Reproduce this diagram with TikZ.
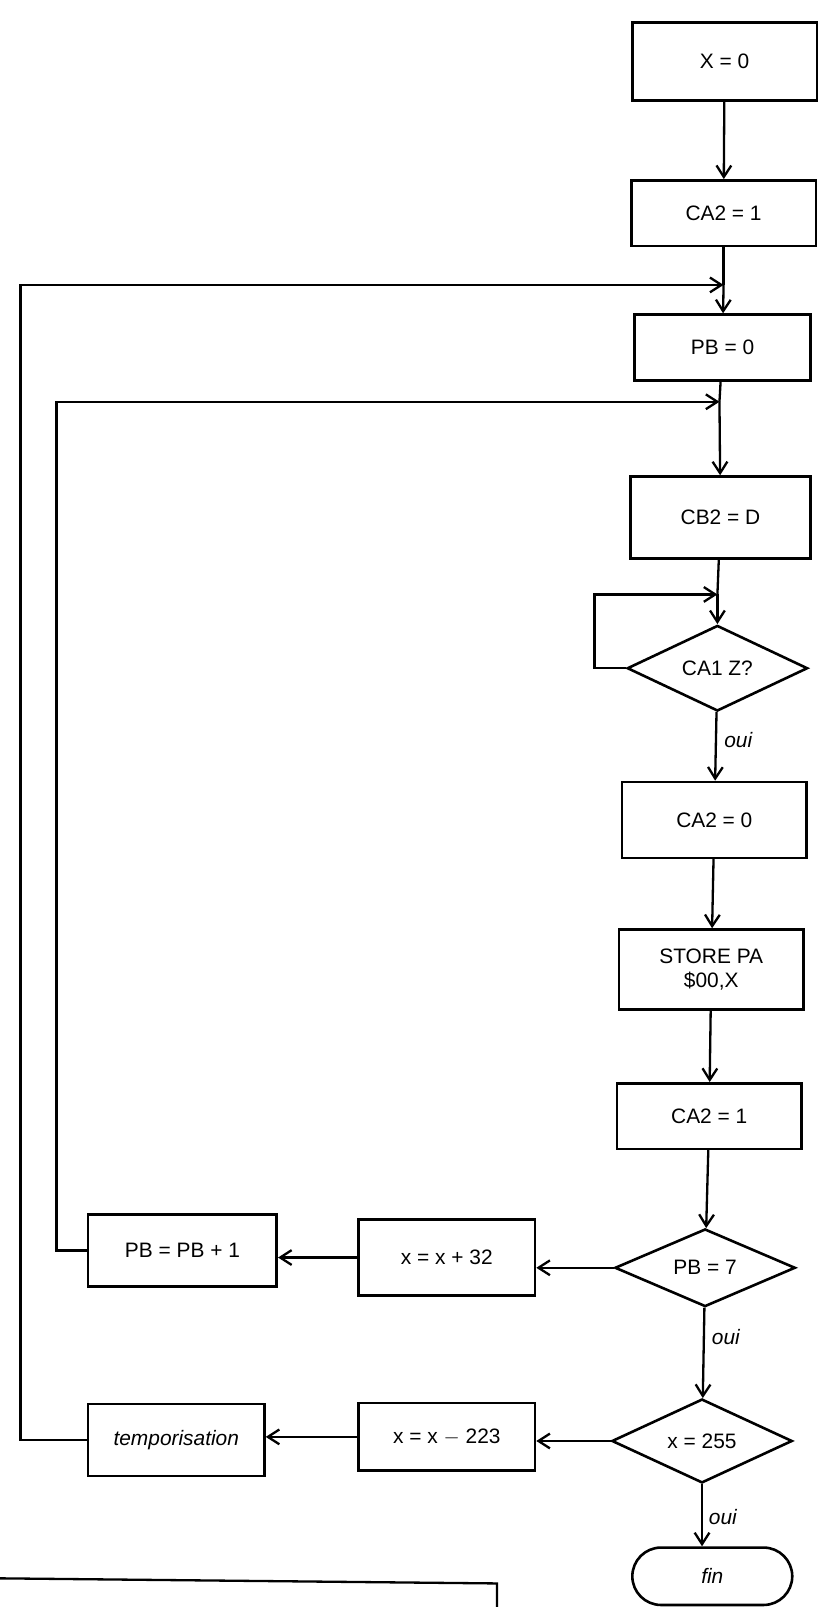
\documentclass[tikz,border=0pt]{standalone}
\usepackage{fontspec}
\setmainfont{Liberation Sans}
\usetikzlibrary{shapes.geometric,arrows.meta}

\begin{document}
\begin{tikzpicture}[
    x=0.025cm, y=-0.025cm,
    >={Straight Barb[length=2.8mm,width=3.6mm]},
    % Styling for Flowchart Elements
    action/.style={rectangle, draw=black, line width=1.8pt, minimum width=4.5cm, minimum height=1.75cm, align=center, font=\fontsize{14.5}{17}\selectfont},
    test/.style={diamond, draw=black, line width=1.8pt, minimum width=4.4cm, minimum height=1.85cm, inner sep=0pt, font=\fontsize{14.5}{17}\selectfont},
    terminal/.style={rectangle, rounded corners=0.7cm, draw=black, line width=1.8pt, minimum width=3.9cm, minimum height=1.4cm, font=\fontsize{14.5}{17}\selectfont},
    answer/.style={anchor=west, inner sep=1pt, font=\itshape\fontsize{14.5}{17}\selectfont},
    flow/.style={line width=1.6pt}
]

    % Frame of the page
    \useasboundingbox (0,0) rectangle (806,1568);

    % Main column
    \node[action, minimum height=1.9cm] (X0) at (707,60) {X = 0};
    \node[action, minimum height=1.6cm] (CA2a) at (706,208) {CA2 = 1};
    \node[action, minimum width=4.3cm, minimum height=1.6cm] (PB0) at (705,339) {PB = 0};
    \node[action, minimum width=4.4cm, minimum height=2cm] (CB2) at (703,505) {CB2 = D};
    \node[test] (CA1) at (700,652) {CA1 Z?};
    \node[action, minimum height=1.85cm] (CA2b) at (697,800) {CA2 = 0};
    \node[action, minimum height=1.95cm] (STORE) at (694,946) {STORE PA\\\$00,X};
    \node[action, minimum height=1.6cm] (CA2c) at (692,1089) {CA2 = 1};
    \node[test] (PB7) at (688,1237) {PB = 7};
    \node[test] (X255) at (685,1406) {x = 255};
    \node[terminal] (FIN) at (695,1538) {\itshape fin};

    % Side branches
    \node[action, minimum width=4.3cm, minimum height=1.85cm] (XP32) at (436,1227) {x = x + 32};
    \node[action, minimum width=4.6cm] (PBINC) at (178,1220) {PB = PB + 1};
    \node[action, minimum width=4.3cm, minimum height=1.65cm] (XM223) at (436,1402) {x = x $-$ 223};
    \node[action, minimum width=4.3cm] (TEMPO) at (172,1405) {\itshape temporisation};

    % Junctions on the main column
    \coordinate (J1) at (706,278);
    \coordinate (J2) at (702,392);
    \coordinate (J3) at (700,580);
    \coordinate (L1) at (20,0);
    \coordinate (L2) at (55,0);
    \coordinate (L3) at (580,0);

    % Downward flow
    \draw[flow, ->] (X0) -- (CA2a);
    \draw[flow] (CA2a) -- (J1);
    \draw[flow, ->] (J1) -- (PB0);
    \draw[flow] (PB0) -- (J2);
    \draw[flow, ->] (J2) -- (CB2);
    \draw[flow] (CB2) -- (J3);
    \draw[flow, ->] (J3) -- (CA1);
    \draw[flow, ->] (CA1) -- (CA2b);
    \draw[flow, ->] (CA2b) -- (STORE);
    \draw[flow, ->] (STORE) -- (CA2c);
    \draw[flow, ->] (CA2c) -- (PB7);
    \draw[flow, ->] (PB7) -- (X255);
    \draw[flow, ->] (X255.south) -- (X255.south |- FIN.north);

    % Answers
    \node[answer] (oui1) at (705,722) {oui};
    \node[answer] (oui2) at (693,1305) {oui};
    \node[answer] (oui3) at (690,1480) {oui};

    % Wait loop on CA1
    \draw[flow, ->] (CA1.west) -- (CA1.west -| L3) -- (L3 |- J3) -- (J3);

    % Branches to the left
    \draw[flow, ->] (PB7.west) -- (PB7.west -| XP32.east);
    \draw[flow, ->] (XP32.west) -- (XP32.west -| PBINC.east);
    \draw[flow, ->] (X255.west) -- (X255.west -| XM223.east);
    \draw[flow, ->] (XM223.west) -- (XM223.west -| TEMPO.east);

    % Return paths
    \draw[flow, ->] (PBINC.west) -- (PBINC.west -| L2) -- (L2 |- J2) -- (J2);
    \draw[flow, ->] (TEMPO.west) -- (TEMPO.west -| L1) -- (L1 |- J1) -- (J1);

    % Edge of the cut caption box
    \coordinate (C1) at (-2,1540);
    \coordinate (C2) at (485,1545);
    \coordinate (C3) at (485,1572);
    \draw[flow] (C1) -- (C2) -- (C3);

\end{tikzpicture}
\end{document}
